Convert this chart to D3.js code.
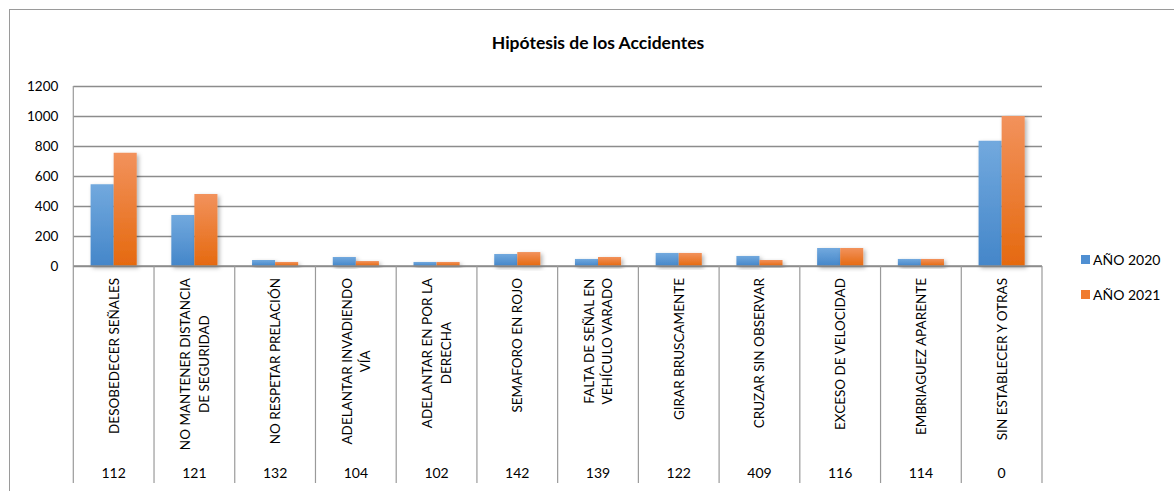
<!DOCTYPE html>
<html><head><meta charset="utf-8">
<script src="https://cdn.jsdelivr.net/npm/d3@7"></script>
<style>
html,body{margin:0;padding:0;background:#fff;}
svg{display:block;font-family:Lato,"Open Sans",sans-serif;}
</style></head>
<body>
<svg id="chart" width="1174" height="491"></svg>
<script>
const categories = [
  ["DESOBEDECER SEÑALES"],
  ["NO MANTENER DISTANCIA","DE SEGURIDAD"],
  ["NO RESPETAR PRELACIÓN"],
  ["ADELANTAR INVADIENDO","VÍA"],
  ["ADELANTAR EN POR LA","DERECHA"],
  ["SEMAFORO EN ROJO"],
  ["FALTA DE SEÑAL EN","VEHÍCULO VARADO"],
  ["GIRAR BRUSCAMENTE"],
  ["CRUZAR SIN OBSERVAR"],
  ["EXCESO DE VELOCIDAD"],
  ["EMBRIAGUEZ APARENTE"],
  ["SIN ESTABLECER Y OTRAS"]
];
const codes = ["112","121","132","104","102","142","139","122","409","116","114","0"];
const seriesNames = ["AÑO 2020","AÑO 2021"];
const values2020 = [545, 340, 40, 60, 27, 80, 47, 87, 67, 120, 47, 835];
const values2021 = [755, 480, 27, 33, 27, 93, 60, 87, 40, 120, 47, 1000];
const yTicks = [0, 200, 400, 600, 800, 1000, 1200];
const title = "Hipótesis de los Accidentes";

const svg = d3.select("#chart");
const L = 73.3, R = 1042, T = 86, B = 266, tableBottom = 483;
const idx = categories.map((d,i)=>i);
const series = [values2020, values2021];

const x0 = d3.scaleBand().domain(idx).range([L, R]).paddingInner(0).paddingOuter(0);
const x1 = d3.scaleBand().domain([0,1]).range([0, x0.bandwidth()]).paddingInner(0).paddingOuter(0.75);
const y = d3.scaleLinear().domain([0, 1200]).range([B, T]);

const defs = svg.append("defs");
const gradStops = [["#72a9de","#4486c9"],["#f2925c","#e5690f"]];
gradStops.forEach((s,i)=>{
  const g = defs.append("linearGradient").attr("id","g"+i).attr("x1",0).attr("y1",0).attr("x2",0).attr("y2",1);
  g.append("stop").attr("offset","0%").attr("stop-color",s[0]);
  g.append("stop").attr("offset","100%").attr("stop-color",s[1]);
});
const f = defs.append("filter").attr("id","sh").attr("x","-30%").attr("y","-30%").attr("width","160%").attr("height","160%");
f.append("feDropShadow").attr("dx",2).attr("dy",2).attr("stdDeviation",2).attr("flood-color","#000").attr("flood-opacity",0.3);

// outer border
svg.append("rect").attr("x",9.5).attr("y",9.5).attr("width",1200).attr("height",600)
  .attr("fill","none").attr("stroke","#9a9a9a").attr("stroke-width",1);

// title
svg.append("text").attr("x",598).attr("y",49).attr("text-anchor","middle")
  .attr("font-weight","bold").attr("font-size",17.5).attr("fill","#000").text(title);

// gridlines
const yAxis = d3.axisLeft(y).tickValues(yTicks).tickFormat(d3.format("d")).tickSize(-(R-L)).tickPadding(15);
const ga = svg.append("g").attr("transform",`translate(${L},0)`).call(yAxis);
ga.select(".domain").remove();
ga.selectAll(".tick line").attr("stroke","#8c8c8c").attr("stroke-width",1.4);
ga.selectAll(".tick text").attr("font-size",13.5).attr("fill","#000").attr("font-family","Lato,sans-serif");

// bars
series.forEach((vals,si)=>{
  svg.append("g").selectAll("rect").data(vals).join("rect")
    .attr("x",(d,i)=>x0(i)+x1(si))
    .attr("y",d=>y(d))
    .attr("width",x1.bandwidth())
    .attr("height",d=>B-y(d))
    .attr("fill",`url(#g${si})`)
    .attr("filter","url(#sh)");
});

// axis lines
svg.append("line").attr("x1",L).attr("x2",R).attr("y1",B).attr("y2",B).attr("stroke","#8c8c8c").attr("stroke-width",1.4);
// table vertical lines
const bounds = idx.map(i=>x0(i)).concat([R]);
svg.append("g").selectAll("line").data(bounds).join("line")
  .attr("x1",d=>d).attr("x2",d=>d).attr("y2",tableBottom)
  .attr("stroke","#9a9a9a").attr("stroke-width",1.2)
  .attr("y1",(d,i)=>i===0?T:B);

// category labels rotated
const labTop = 278, lineH = 18.5, fs = 13.5;
idx.forEach(i=>{
  const cx = x0(i) + x0.bandwidth()/2;
  const lines = categories[i];
  const g = svg.append("g");
  const texts = lines.map((t,k)=>g.append("text").attr("font-size",fs).attr("fill","#000").attr("text-anchor","middle").text(t));
  const maxLen = d3.max(texts, t=>t.node().getComputedTextLength());
  const cy = labTop + maxLen/2;
  const n = lines.length;
  texts.forEach((t,k)=>{
    const off = (k - (n-1)/2) * lineH;
    t.attr("transform",`translate(${cx + off + 5},${cy}) rotate(-90)`);
  });
});

// codes
svg.append("g").selectAll("text").data(codes).join("text")
  .attr("x",(d,i)=>x0(i)+x0.bandwidth()/2).attr("y",478)
  .attr("text-anchor","middle").attr("font-size",14).attr("fill","#000").text(d=>d);

// legend
const legColors = ["#4f8fd2","#f07b2e"];
seriesNames.forEach((n,i)=>{
  const yy = 255 + i*35;
  svg.append("rect").attr("x",1081).attr("y",yy).attr("width",9).attr("height",9).attr("fill",legColors[i]);
  svg.append("text").attr("x",1093).attr("y",yy+9.5).attr("font-size",14).attr("fill","#000").text(n);
});
</script>
</body></html>
